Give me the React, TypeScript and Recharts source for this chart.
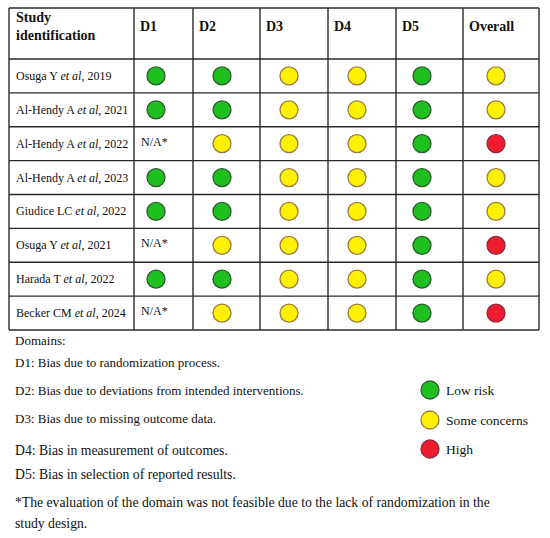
import React from "react";
import { ScatterChart, Scatter, XAxis, YAxis, ReferenceLine, Customized } from "recharts";

// ---------- data ----------
const DOMAINS = ["D1", "D2", "D3", "D4", "D5", "Overall"];
const STUDY_AUTHORS = ["Osuga Y", "Al-Hendy A", "Al-Hendy A", "Al-Hendy A", "Giudice LC", "Osuga Y", "Harada T", "Becker CM"];
const STUDY_YEARS = ["2019", "2021", "2022", "2023", "2022", "2021", "2022", "2024"];
// L = low risk, S = some concerns, H = high, N = not applicable
const D1 = ["L", "L", "N", "L", "L", "N", "L", "N"];
const D2 = ["L", "L", "S", "L", "L", "S", "L", "S"];
const D3 = ["S", "S", "S", "S", "S", "S", "S", "S"];
const D4 = ["S", "S", "S", "S", "S", "S", "S", "S"];
const D5 = ["L", "L", "L", "L", "L", "L", "L", "L"];
const OVERALL = ["S", "S", "H", "S", "S", "H", "S", "H"];
const RATINGS = [D1, D2, D3, D4, D5, OVERALL];
const LEGEND_KEYS = ["L", "S", "H"];
const LEGEND_LABELS = ["Low risk", "Some concerns", "High"];
const DOMAIN_NOTES = [
  "Domains:",
  "D1: Bias due to randomization process.",
  "D2: Bias due to deviations from intended interventions.",
  "D3: Bias due to missing outcome data.",
  "D4: Bias in measurement of outcomes.",
  "D5: Bias in selection of reported results.",
  "*The evaluation of the domain was not feasible due to the lack of randomization in the",
  "study design.",
];

// ---------- layout ----------
const W = 550;
const H = 538;
const TABLE_TOP = 8;
const HEADER_BOTTOM = 59;
const TABLE_BOTTOM = 330;
const ROW_H = (TABLE_BOTTOM - HEADER_BOTTOM) / STUDY_AUTHORS.length;
const COL_EDGES = [9, 134, 193, 260, 328, 396, 463, 539];
const CIRCLE_X = [156, 222, 289, 357, 422, 496];
const NAME_X = 16;
const NA_X = 141;
const NOTE_X = 15;
const NOTE_Y = [345, 367, 395, 422.5, 454.5, 478.5, 506.5, 527.5];
const NOTE_SIZE = [13, 13, 13, 13, 13.7, 13.7, 13.7, 13.7];
const LEGEND_X = 430;
const LEGEND_TEXT_X = 446;
const LEGEND_Y = [390, 420, 449];
const ROW_MIN = -0.5 - HEADER_BOTTOM / ROW_H;
const ROW_MAX = -0.5 + (H - HEADER_BOTTOM) / ROW_H;

const FONT = "'Liberation Serif', 'Times New Roman', serif";
const LINE = "#2a2a2a";

const STYLE: Record<string, { fill: string; stroke: string }> = {
  L: { fill: "#1fbf1f", stroke: "#2d5a2d" },
  S: { fill: "#fff200", stroke: "#9c7a3c" },
  H: { fill: "#ee1c2e", stroke: "#8a2a3a" },
};

const cellData = (key: string) => {
  const out: { x: number; y: number }[] = [];
  RATINGS.forEach((col, c) =>
    col.forEach((v, r) => {
      if (v === key) out.push({ x: CIRCLE_X[c], y: r });
    })
  );
  return out;
};

const nameData = STUDY_AUTHORS.map((a, i) => ({ x: NAME_X, y: i, author: a, year: STUDY_YEARS[i] }));
const legendData = LEGEND_KEYS.map((k, i) => ({ x: LEGEND_X, y: LEGEND_Y[i], key: k, label: LEGEND_LABELS[i] }));

const circleShape = (key: string) => (props: any) => {
  const s = STYLE[key];
  return <circle cx={props.cx} cy={props.cy} r={9} fill={s.fill} stroke={s.stroke} strokeWidth={1.3} />;
};

const nameShape = (props: any) => (
  <text x={props.cx} y={props.cy + 4} style={{ fontFamily: FONT, fontSize: 12 }} fill="#111">
    {props.payload.author + " "}
    <tspan style={{ fontStyle: "italic" }}>et al</tspan>
    {", " + props.payload.year}
  </text>
);

const naShape = (props: any) => (
  <text x={props.cx} y={props.cy + 2} style={{ fontFamily: FONT, fontSize: 12 }} fill="#111">
    N/A*
  </text>
);

const legendShape = (props: any) => {
  const s = STYLE[props.payload.key];
  return (
    <g>
      <circle cx={props.cx} cy={props.cy} r={9} fill={s.fill} stroke={s.stroke} strokeWidth={1.3} />
      <text x={LEGEND_TEXT_X} y={props.cy + 5} style={{ fontFamily: FONT, fontSize: 13.5 }} fill="#111">
        {props.payload.label}
      </text>
    </g>
  );
};

const naData = D1.map((v, r) => ({ v, r })).filter((d) => d.v === "N").map((d) => ({ x: NA_X, y: d.r }));

const HEAD = { fontFamily: FONT, fontSize: 14, fontWeight: "bold" as const };

const Texts = () => (
  <g fill="#111">
    <text x={16} y={22} style={HEAD}>Study</text>
    <text x={16} y={40} style={HEAD}>identification</text>
    {DOMAINS.map((d, i) => (
      <text key={d} x={COL_EDGES[i + 1] + 6} y={31} style={HEAD}>
        {d}
      </text>
    ))}
    {DOMAIN_NOTES.map((t, i) => (
      <text key={i} x={NOTE_X} y={NOTE_Y[i]} style={{ fontFamily: FONT, fontSize: NOTE_SIZE[i] }}>
        {t}
      </text>
    ))}
  </g>
);

export default function App() {
  const hLines = Array.from({ length: STUDY_AUTHORS.length + 1 }, (_, i) => i - 0.5);
  return (
    <div style={{ position: "absolute", left: 0, top: 0, width: W, height: H, background: "#fff" }}>
      <ScatterChart width={W} height={H} margin={{ top: 0, right: 0, bottom: 0, left: 0 }}>
        <XAxis type="number" dataKey="x" domain={[0, W]} hide />
        <YAxis yAxisId="row" type="number" dataKey="y" domain={[ROW_MIN, ROW_MAX]} reversed hide />
        <YAxis yAxisId="px" type="number" dataKey="y" domain={[0, H]} reversed hide />
        <ReferenceLine
          yAxisId="px"
          segment={[{ x: COL_EDGES[0], y: TABLE_TOP }, { x: COL_EDGES[COL_EDGES.length - 1], y: TABLE_TOP }]}
          stroke={LINE}
          strokeWidth={1.4}
          ifOverflow="visible"
        />
        {hLines.map((y) => (
          <ReferenceLine
            key={"h" + y}
            yAxisId="row"
            segment={[{ x: COL_EDGES[0], y }, { x: COL_EDGES[COL_EDGES.length - 1], y }]}
            stroke={LINE}
            strokeWidth={1.4}
            ifOverflow="visible"
          />
        ))}
        {COL_EDGES.map((x) => (
          <ReferenceLine
            key={"v" + x}
            yAxisId="px"
            segment={[{ x, y: TABLE_TOP }, { x, y: TABLE_BOTTOM }]}
            stroke={LINE}
            strokeWidth={1.4}
            ifOverflow="visible"
          />
        ))}
        <Scatter yAxisId="row" data={nameData} shape={nameShape} isAnimationActive={false} />
        <Scatter yAxisId="row" data={naData} shape={naShape} isAnimationActive={false} />
        {LEGEND_KEYS.map((k) => (
          <Scatter key={k} yAxisId="row" data={cellData(k)} shape={circleShape(k)} isAnimationActive={false} />
        ))}
        <Scatter yAxisId="px" data={legendData} shape={legendShape} isAnimationActive={false} />
        <Customized component={<Texts />} />
      </ScatterChart>
    </div>
  );
}
